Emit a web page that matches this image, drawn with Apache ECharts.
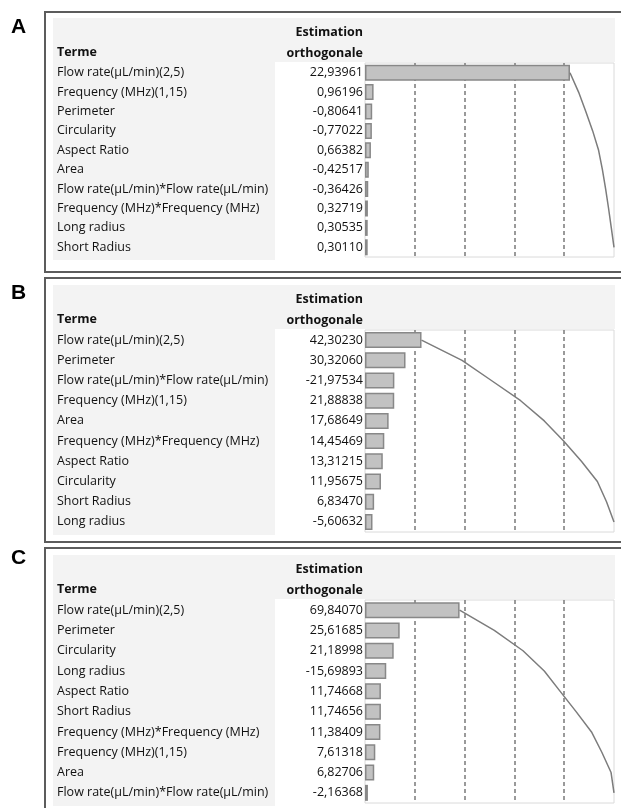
<!DOCTYPE html>
<html lang="fr">
<head>
    <meta charset="UTF-8">
    <title>Estimations orthogonales</title>
    <script type="text/javascript" src="https://cdn.jsdelivr.net/npm/echarts@6/dist/echarts.min.js"></script>
    <style>
        html, body { margin: 0; padding: 0; background: #fff; }
        #main { width: 621px; height: 808px; }
    </style>
</head>
<body>
<div id="main"></div>
<script>
    // termes et estimations de chaque panneau
    const termsA = ['Flow rate(µL/min)(2,5)', 'Frequency (MHz)(1,15)', 'Perimeter', 'Circularity', 'Aspect Ratio',
        'Area', 'Flow rate(µL/min)*Flow rate(µL/min)', 'Frequency (MHz)*Frequency (MHz)', 'Long radius', 'Short Radius'];
    const valuesA = [22.93961, 0.96196, -0.80641, -0.77022, 0.66382, -0.42517, -0.36426, 0.32719, 0.30535, 0.30110];

    const termsB = ['Flow rate(µL/min)(2,5)', 'Perimeter', 'Flow rate(µL/min)*Flow rate(µL/min)', 'Frequency (MHz)(1,15)',
        'Area', 'Frequency (MHz)*Frequency (MHz)', 'Aspect Ratio', 'Circularity', 'Short Radius', 'Long radius'];
    const valuesB = [42.30230, 30.32060, -21.97534, 21.88838, 17.68649, 14.45469, 13.31215, 11.95675, 6.83470, -5.60632];

    const termsC = ['Flow rate(µL/min)(2,5)', 'Perimeter', 'Circularity', 'Long radius', 'Aspect Ratio', 'Short Radius',
        'Frequency (MHz)*Frequency (MHz)', 'Frequency (MHz)(1,15)', 'Area', 'Flow rate(µL/min)*Flow rate(µL/min)'];
    const valuesC = [69.84070, 25.61685, 21.18998, -15.69893, 11.74668, 11.74656, 11.38409, 7.61318, 6.82706, -2.16368];

    const panelLabels = ['A', 'B', 'C'];

    let myChart = echarts.init(document.getElementById('main'));

    const FONT = '"Open Sans", "Noto Sans", sans-serif';
    const TXT = '#111';
    const FS = 12.5;

    // box: cadre du panneau, head: haut de l'en-tete, top/height: zone du graphe
    const panels = [
        {terms: termsA, values: valuesA, box: [12, 272], head: 18, top: 63, height: 194, lab: 27},
        {terms: termsB, values: valuesB, box: [278, 542], head: 285, top: 330, height: 202, lab: 293},
        {terms: termsC, values: valuesC, box: [548, 812], head: 555, top: 600, height: 203, lab: 558}
    ];

    const fmt = v => v.toFixed(5).replace('.', ',');

    let grids = [], xAxes = [], yAxes = [], series = [], graphics = [];

    panels.forEach((p, k) => {
        const total = p.values.reduce((s, v) => s + Math.abs(v), 0);
        const share = p.values.map(v => Math.abs(v) / total);
        let run = 0;
        const cum = share.map((s, i) => { run += s; return [run, i]; });

        grids.push({
            left: 365, right: 7, top: p.top, height: p.height,
            show: true, backgroundColor: '#fff', borderColor: '#dadada', borderWidth: 1
        });
        xAxes.push({
            type: 'value', gridIndex: k, min: 0, max: 1, interval: 0.2,
            axisLine: {show: false}, axisTick: {show: false}, axisLabel: {show: false},
            splitLine: {show: true, showMinLine: false, showMaxLine: false,
                lineStyle: {color: '#7a7a7a', width: 1.5, type: [4, 3]}}
        });
        yAxes.push({
            type: 'category', gridIndex: k, inverse: true, position: 'left', offset: 0,
            data: p.terms,
            axisLine: {show: false}, axisTick: {show: false},
            axisLabel: {align: 'left', margin: 308, color: TXT, fontFamily: FONT, fontSize: FS}
        });
        yAxes.push({
            type: 'category', gridIndex: k, inverse: true, position: 'left', offset: 0,
            data: p.values.map(fmt),
            axisLine: {show: false}, axisTick: {show: false},
            axisLabel: {align: 'right', margin: 2, color: TXT, fontFamily: FONT, fontSize: FS}
        });
        series.push({
            type: 'bar', xAxisIndex: k, yAxisIndex: 2 * k, data: share, barWidth: 16,
            itemStyle: {color: '#c2c2c2', borderColor: '#888', borderWidth: 1.5},
            silent: true, animation: false
        });
        series.push({
            type: 'line', xAxisIndex: k, yAxisIndex: 2 * k, data: cum, showSymbol: false,
            lineStyle: {color: '#7c7c7c', width: 1.5}, z: 3, silent: true, animation: false
        });

        // decor: cadre, fonds gris, en-tetes
        graphics.push({type: 'rect', z: -10, shape: {x: 45, y: p.box[0], width: 585, height: p.box[1] - p.box[0]},
            style: {fill: '#fff', stroke: '#5c5c5c', lineWidth: 2}});
        graphics.push({type: 'rect', z: -9, shape: {x: 53, y: p.head, width: 562, height: p.top - p.head - 1},
            style: {fill: '#f3f3f3'}});
        graphics.push({type: 'rect', z: -9, shape: {x: 53, y: p.head, width: 222, height: p.top + p.height - p.head + 3},
            style: {fill: '#f3f3f3'}});
        graphics.push({type: 'text', z: 10, x: 11, y: p.lab,
            style: {text: panelLabels[k], font: 'bold 21px "Liberation Sans", Arial, sans-serif', fill: '#000', textVerticalAlign: 'middle'}});
        graphics.push({type: 'text', z: 10, x: 57, y: p.head + 34,
            style: {text: 'Terme', font: 'bold ' + FS + 'px ' + FONT, fill: TXT, textVerticalAlign: 'middle'}});
        graphics.push({type: 'text', z: 10, x: 363, y: p.head + 14,
            style: {text: 'Estimation', font: 'bold ' + FS + 'px ' + FONT, fill: TXT, textAlign: 'right', textVerticalAlign: 'middle'}});
        graphics.push({type: 'text', z: 10, x: 363, y: p.head + 35,
            style: {text: 'orthogonale', font: 'bold ' + FS + 'px ' + FONT, fill: TXT, textAlign: 'right', textVerticalAlign: 'middle'}});
    });

    let option = {
        backgroundColor: '#fff',
        animation: false,
        grid: grids,
        xAxis: xAxes,
        yAxis: yAxes,
        series: series,
        graphic: graphics
    };
    myChart.setOption(option);
</script>
</body>
</html>
